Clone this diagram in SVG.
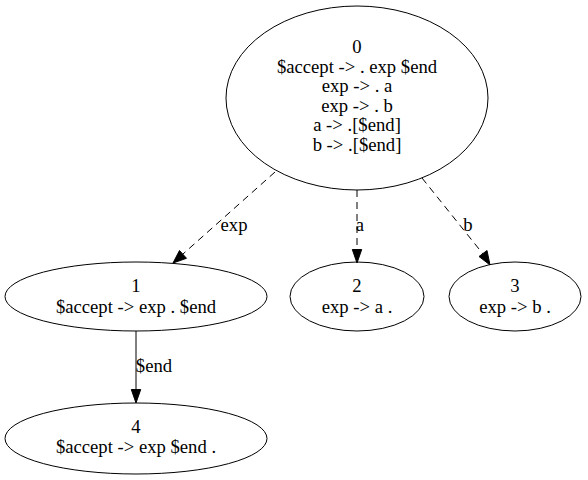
<svg xmlns="http://www.w3.org/2000/svg" width="588" height="480" viewBox="0 0 588 480">
<defs>
<style>
.node ellipse{fill:none;stroke:#000;stroke-width:1}
text{font-family:"Liberation Serif","Times New Roman",serif;font-size:18.67px;fill:#000;text-anchor:middle}
.edge{stroke:#000;stroke-width:1;fill:none}
.dash{stroke-dasharray:7,5}
.head{fill:#000;stroke:#000;stroke-width:1}
</style>
</defs>
<rect width="588" height="480" fill="#fff"/>
<g id="connectors">
<g id="e0_1">
<line class="edge dash" x1="275" y1="172" x2="183" y2="254"/>
<polygon class="head" points="173,263 179.5,250.5 186.5,258.3"/>
<text x="234" y="231">exp</text>
</g>
<g id="e0_2">
<line class="edge dash" x1="357" y1="190" x2="357" y2="250"/>
<polygon class="head" points="357,263 352.3,249.5 361.7,249.5"/>
<text x="360" y="231">a</text>
</g>
<g id="e0_3">
<line class="edge dash" x1="422" y1="178" x2="483" y2="254"/>
<polygon class="head" points="490,265 479,256.5 487,250.5"/>
<text x="468" y="231">b</text>
</g>
<g id="e1_4">
<line class="edge" x1="136" y1="331" x2="136" y2="390"/>
<polygon class="head" points="136,403 131.3,389.5 140.7,389.5"/>
<text x="154" y="372">$end</text>
</g>
</g>
<g id="node0" class="node">
<ellipse cx="357" cy="98" rx="131" ry="92"/>
<text x="357" y="53">0</text>
<text x="357" y="72.6">$accept -&gt; . exp $end</text>
<text x="357" y="92.2">exp -&gt; . a</text>
<text x="357" y="111.8">exp -&gt; . b</text>
<text x="357" y="131.4">a -&gt; .[$end]</text>
<text x="357" y="151">b -&gt; .[$end]</text>
</g>
<g id="node1" class="node">
<ellipse cx="136" cy="296.5" rx="131" ry="34.5"/>
<text x="136" y="292">1</text>
<text x="136" y="312.5">$accept -&gt; exp . $end</text>
</g>
<g id="node2" class="node">
<ellipse cx="357" cy="296.5" rx="67" ry="34.5"/>
<text x="357" y="292">2</text>
<text x="357" y="312.5">exp -&gt; a .</text>
</g>
<g id="node3" class="node">
<ellipse cx="515" cy="296.5" rx="66" ry="34.5"/>
<text x="515" y="292">3</text>
<text x="515" y="312.5">exp -&gt; b .</text>
</g>
<g id="node4" class="node">
<ellipse cx="136" cy="438.5" rx="131" ry="35.5"/>
<text x="136" y="432.5">4</text>
<text x="136" y="453">$accept -&gt; exp $end .</text>
</g>
</svg>
